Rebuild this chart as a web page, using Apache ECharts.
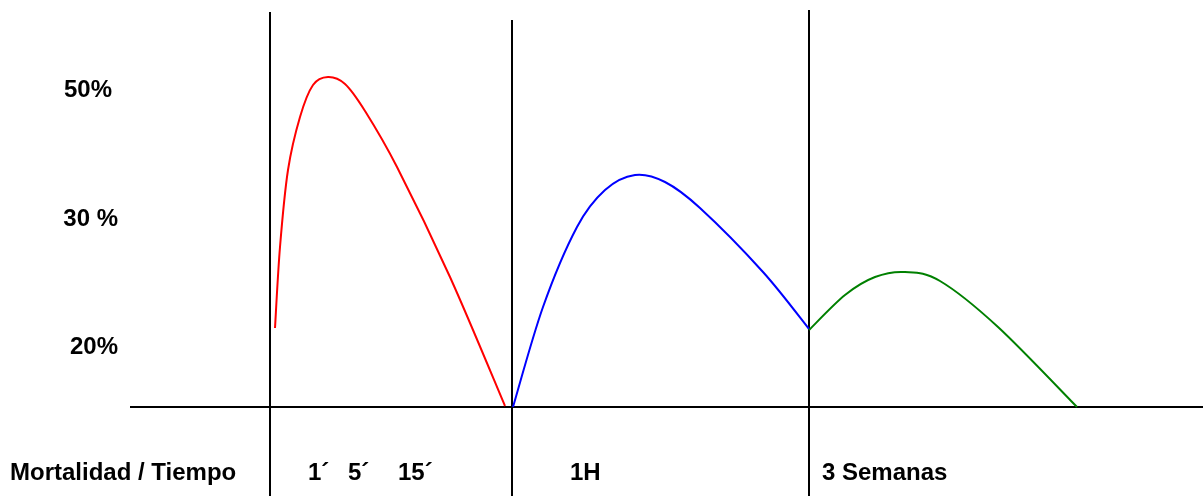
<!DOCTYPE html>
<html>
<head>
<meta charset="utf-8">
<script src="https://cdn.jsdelivr.net/npm/echarts@6/dist/echarts.min.js"></script>
<style>
html,body{margin:0;padding:0;background:#fff;}
#c{width:1203px;height:496px;}
</style>
</head>
<body>
<div id="c"></div>
<script>
// Positions along the time axis (x) and mortality height above baseline (y)
const redCurve = [[275,79],[280,160],[288,237],[300,290],[313,322],[328,330],[345,323],[365,296],[397,240],[450,130],[505,1]];
const blueCurve = [[513,0],[543,100],[577,180],[605,217],[635,232],[665,225],[700,199],[763,135],[809,78]];
const greenCurve = [[809,77],[845,112],[875,130],[905,135],[940,126],[998,80],[1077,0]];
const dividers = [[270,395],[512,387],[809,397]]; // x position, top height
const baseline = [[130,0],[1203,0]];
const yLabels = [
  {text:'50%', x:112, y:91},
  {text:'30 %', x:118, y:220},
  {text:'20%', x:118, y:348}
];
const xLabels = [
  {text:'Mortalidad / Tiempo', x:10, y:474},
  {text:'1´', x:308, y:474},
  {text:'5´', x:348, y:474},
  {text:'15´', x:398, y:474},
  {text:'1H', x:570, y:474},
  {text:'3 Semanas', x:822, y:474}
];

const chart = echarts.init(document.getElementById('c'));
const font = '"Liberation Sans", Arial, sans-serif';
const series = [];
dividers.forEach(d => {
  series.push({type:'line', data:[[d[0],-89],[d[0],d[1]]], symbol:'none', silent:true,
    lineStyle:{color:'#000', width:2}, z:1});
});
series.push({type:'line', data:baseline, symbol:'none', silent:true, lineStyle:{color:'#000', width:2}, z:1});

// Catmull-Rom spline through the read points, positioned with the chart's axes
function splinePath(pts) {
  const n = pts.length;
  let d = 'M' + pts[0][0] + ' ' + pts[0][1];
  for (let i = 0; i < n - 1; i++) {
    const p0 = pts[i - 1] || pts[i];
    const p1 = pts[i];
    const p2 = pts[i + 1];
    const p3 = pts[i + 2] || pts[i + 1];
    const t = 1 / 6;
    const c1x = p1[0] + (p2[0] - p0[0]) * t;
    const c1y = p1[1] + (p2[1] - p0[1]) * t;
    const c2x = p2[0] - (p3[0] - p1[0]) * t;
    const c2y = p2[1] - (p3[1] - p1[1]) * t;
    d += ' C' + c1x + ' ' + c1y + ' ' + c2x + ' ' + c2y + ' ' + p2[0] + ' ' + p2[1];
  }
  return d;
}
function curveSeries(pts, color) {
  return {
    type:'custom', data:pts, z:3, silent:true,
    encode:{x:0, y:1},
    renderItem:function(params, api){
      if (params.dataIndex !== 0) return null;
      const points = pts.map(p => api.coord(p));
      return {type:'path', shape:{pathData:splinePath(points)},
        style:{stroke:color, lineWidth:2, fill:'none'}};
    }
  };
}
series.push(curveSeries(redCurve, '#ff0000'));
series.push(curveSeries(blueCurve, '#0000ff'));
series.push(curveSeries(greenCurve, '#008000'));

const graphic = [];
yLabels.forEach(l => graphic.push({type:'text', right:1203-l.x, top:l.y-13, style:{text:l.text, font:'bold 24px '+font, fill:'#000'}}));
xLabels.forEach(l => graphic.push({type:'text', left:l.x, top:l.y-13, style:{text:l.text, font:'bold 24px '+font, fill:'#000'}}));

chart.setOption({
  animation:false,
  grid:{left:0,right:0,top:0,bottom:0},
  xAxis:{type:'value', min:0, max:1203, show:false},
  yAxis:{type:'value', min:-89, max:407, show:false},
  series:series,
  graphic:graphic
});
</script>
</body>
</html>
